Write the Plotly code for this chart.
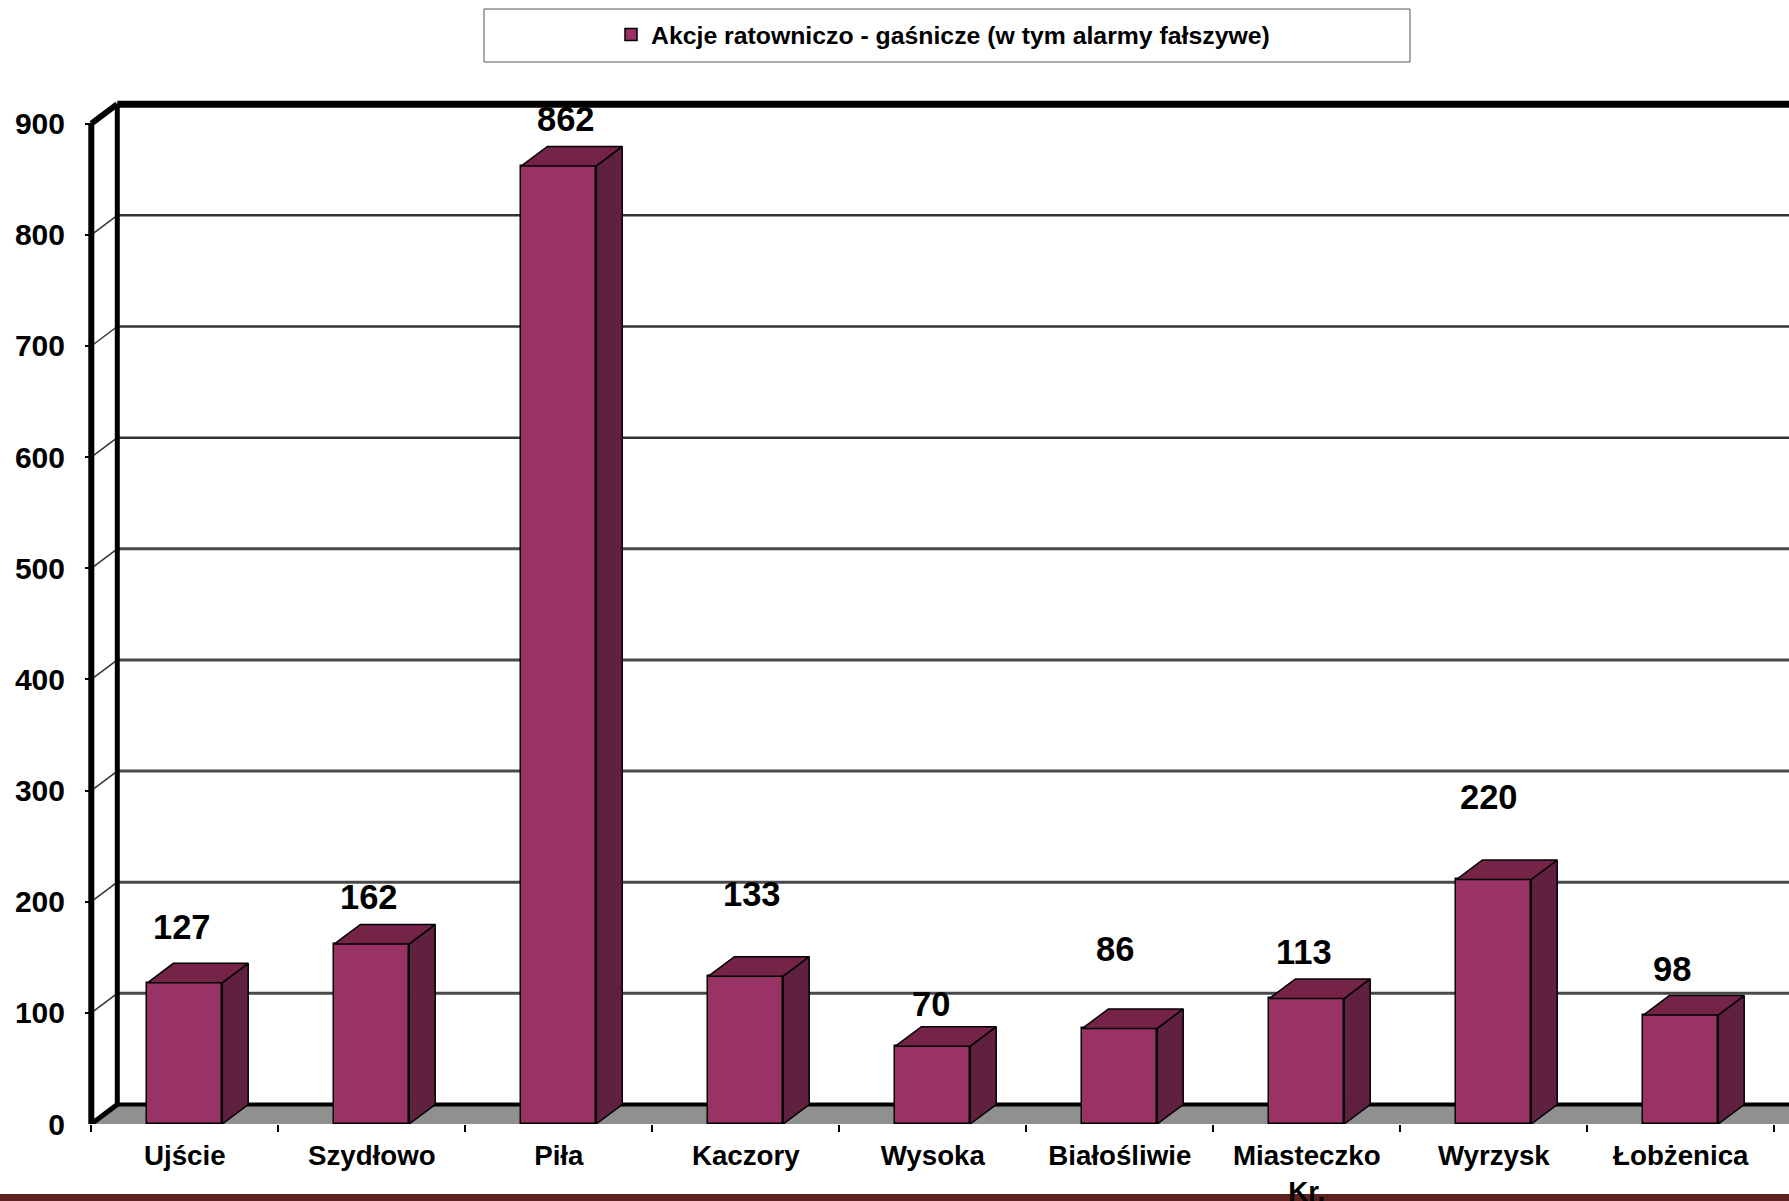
import plotly.graph_objects as go

categories = ["Ujście", "Szydłowo", "Piła", "Kaczory", "Wysoka", "Białośliwie", "Miasteczko<br>Kr.", "Wyrzysk", "Łobżenica"]
values = [127, 162, 862, 133, 70, 86, 113, 220, 98]
y_ticks = [0, 100, 200, 300, 400, 500, 600, 700, 800, 900]
series_name = "Akcje ratowniczo - gaśnicze (w tym alarmy fałszywe)"

label_dx = [-3, -3, 7, 6, -2, -5, -3, -5, -9]
label_dy = [56, 47, 47, 82, 42, 79, 46, 82, 46]

W, H = 1789, 1201
LEFT, BOTTOM, TOP = 85, 77, 96
PX_PER_CAT = 187.0
X0 = -0.5 - (91.3 - LEFT) / PX_PER_CAT
X1 = X0 + (W - LEFT) / PX_PER_CAT
PX_PER_UNIT = 1000.3 / 900
Y1 = (H - BOTTOM - TOP) / PX_PER_UNIT
DX = 26 / PX_PER_CAT
DY = 19.5 / PX_PER_UNIT
HALF = 0.2
XL = -0.5
XB = XL + DX
BACK_TOP = y_ticks[-1] + DY

FRONT, SIDE, TOPC = "#993366", "#602040", "#752448"
plot_h = H - BOTTOM - TOP


def line(x0, y0, x1, y1, color="#000", width=2, layer="below"):
    return dict(type="line", xref="x", yref="y", x0=x0, y0=y0, x1=x1, y1=y1,
                line=dict(color=color, width=width), layer=layer)


shapes = [
    dict(type="path", xref="x", yref="y", layer="below",
         path=f"M{XL},0 L{XB},{DY} L{X1 + DX},{DY} L{X1},0 Z",
         fillcolor="#909090", line=dict(width=0)),
    dict(type="rect", xref="paper", yref="paper", layer="below",
         x0=(-LEFT) / (W - LEFT), x1=1,
         y0=-(H - (H - BOTTOM)) / plot_h,
         y1=-(1194 - (H - BOTTOM)) / plot_h,
         fillcolor="#5f2120", line=dict(width=0)),
    dict(type="rect", xref="paper", yref="paper", layer="below",
         x0=(484 - LEFT) / (W - LEFT), x1=(1410 - LEFT) / (W - LEFT),
         y0=(H - BOTTOM - 62) / plot_h, y1=(H - BOTTOM - 9) / plot_h,
         fillcolor="white", line=dict(color="#555", width=1)),
]
for t in y_ticks[1:-1]:
    shapes.append(line(XL, t, XB, t + DY, "#333", 1.5))
    shapes.append(line(XB, t + DY, X1, t + DY,
                       "#4a4a4a" if t <= 500 else "#333333",
                       3 if t <= 500 else 2.5))
shapes += [
    line(XB, DY, X1 + DX, DY, "#000", 4),
    line(XB, DY, XB, BACK_TOP, "#000", 5),
    line(XL, 0, XL, y_ticks[-1], "#000", 6),
    line(XL, 0, XB, DY, "#000", 5),
    line(XL, y_ticks[-1], XB, BACK_TOP, "#000", 6),
    line(XB, BACK_TOP, X1, BACK_TOP, "#000", 7),
]

fig = go.Figure()
xs = list(range(len(categories)))
fig.add_trace(go.Bar(x=xs, y=values, width=2 * HALF, name=series_name,
                     marker=dict(color=FRONT, line=dict(color="#000", width=1.5))))
for i, v in zip(xs, values):
    fig.add_trace(go.Scatter(
        x=[i + HALF, i + HALF + DX, i + HALF + DX, i + HALF, i + HALF],
        y=[0, DY, v + DY, v, 0], mode="lines", fill="toself", fillcolor=SIDE,
        line=dict(color="#000", width=1.5), showlegend=False, hoverinfo="skip"))
    fig.add_trace(go.Scatter(
        x=[i - HALF, i + HALF, i + HALF + DX, i - HALF + DX, i - HALF],
        y=[v, v, v + DY, v + DY, v], mode="lines", fill="toself", fillcolor=TOPC,
        line=dict(color="#000", width=1.5), showlegend=False, hoverinfo="skip"))

annotations = [
    dict(x=i, y=v, xref="x", yref="y", text=str(v), showarrow=False, xshift=dx, yshift=dy,
         yanchor="middle", font=dict(size=34.5, color="#000", family="Liberation Sans", weight="bold"))
    for i, v, dx, dy in zip(xs, values, label_dx, label_dy)
]

fig.update_layout(
    width=W, height=H, autosize=False,
    margin=dict(l=LEFT, r=0, t=TOP, b=BOTTOM, pad=0),
    paper_bgcolor="white", plot_bgcolor="white",
    font=dict(family="Liberation Sans", color="#000"),
    showlegend=True, shapes=shapes, annotations=annotations, bargap=0,
    legend=dict(orientation="h", x=(943 - LEFT) / (W - LEFT), xanchor="center",
                y=(H - BOTTOM - 35) / plot_h, yanchor="middle",
                bgcolor="rgba(0,0,0,0)", font=dict(size=24.8, weight="bold")),
    xaxis=dict(range=[X0, X1], tickmode="array", tickvals=xs, ticktext=categories,
               showgrid=False, zeroline=False, showline=False, automargin=False,
               ticks="outside", ticklen=7, tickcolor="rgba(0,0,0,0)",
               tickfont=dict(size=27.7, weight="bold"), tickangle=0,
               minor=dict(tickmode="array", tickvals=[x - 0.5 for x in xs] + [xs[-1] + 0.5],
                          ticks="outside", ticklen=7, tickcolor="#000", tickwidth=1.5,
                          showgrid=False)),
    yaxis=dict(range=[0, Y1], tickmode="array", tickvals=y_ticks,
               showgrid=False, zeroline=False, showline=False, automargin=False,
               ticks="inside", ticklen=6, tickcolor="#000", tickwidth=1.5,
               ticklabelstandoff=19,
               tickfont=dict(size=30, weight="bold")),
)
fig.write_html("out.html", config=dict(displayModeBar=False),
               post_script="document.body.style.margin='0';document.body.style.overflow='hidden';")
